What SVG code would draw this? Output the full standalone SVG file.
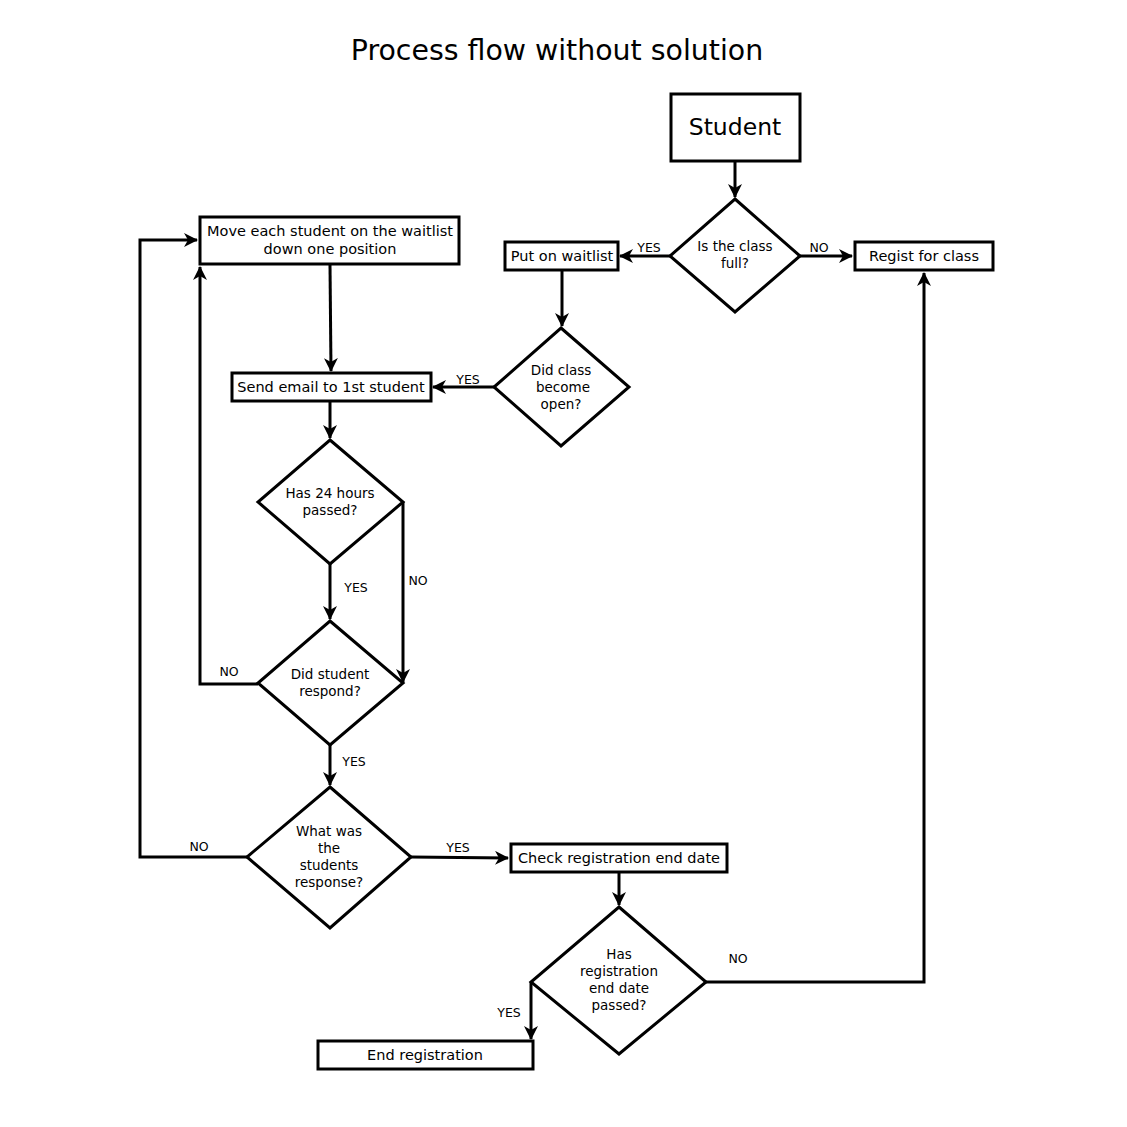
<svg xmlns="http://www.w3.org/2000/svg" width="1127" height="1127" viewBox="0 0 1127 1127">
<defs>
<marker id="ah" viewBox="0 0 14 14" refX="13" refY="7" markerWidth="14" markerHeight="14" markerUnits="userSpaceOnUse" orient="auto">
<path d="M0,0 L14,7 L0,14 L4,7 Z" fill="#000"/>
</marker>
<style>
.box{fill:#fff;stroke:#000;stroke-width:3}
.dia{fill:#fff;stroke:#000;stroke-width:3}
.c{fill:none;stroke:#000;stroke-width:3;marker-end:url(#ah)}
text{font-family:"DejaVu Sans",sans-serif;fill:#000;text-anchor:middle}
.t{font-size:14.5px}
.d{font-size:13.5px}
.l{font-size:12.5px}
</style>
</defs>
<rect width="1127" height="1127" fill="#fff"/>
<text x="557" y="60" style="font-size:28.4px">Process flow without solution</text>

<g id="connectors">
<path class="c" d="M735,162 L735,197"/>
<path class="c" d="M670,256 L620,256"/>
<path class="c" d="M800,256 L852,256"/>
<path class="c" d="M562,271 L562,326"/>
<path class="c" d="M494,387 L433,387"/>
<path class="c" d="M330,265 L331,371"/>
<path class="c" d="M330,402 L330,438"/>
<path class="c" d="M330,564 L330,619"/>
<path class="c" d="M403,502 L403,682"/>
<path class="c" d="M258,684 L200,684 L200,267"/>
<path class="c" d="M330,745 L330,785"/>
<path class="c" d="M247,857 L140,857 L140,240 L197,240"/>
<path class="c" d="M411,857 L508,858"/>
<path class="c" d="M619,873 L619,905"/>
<path class="c" d="M706,982 L924,982 L924,273"/>
<path class="c" d="M531,982 L531,1039"/>
<text class="l" x="649" y="252">YES</text>
<text class="l" x="819" y="252">NO</text>
<text class="l" x="468" y="384">YES</text>
<text class="l" x="356" y="592">YES</text>
<text class="l" x="418" y="585">NO</text>
<text class="l" x="229" y="676">NO</text>
<text class="l" x="354" y="766">YES</text>
<text class="l" x="199" y="851">NO</text>
<text class="l" x="458" y="852">YES</text>
<text class="l" x="738" y="963">NO</text>
<text class="l" x="509" y="1017">YES</text>
</g>

<g id="student">
<rect class="box" x="671" y="94" width="129" height="67"/>
<text x="735" y="135" style="font-size:23.5px">Student</text>
</g>
<g id="is-class-full">
<polygon class="dia" points="735,199 800,256 735,312 670,256"/>
<text class="d" x="735" y="251">Is the class</text>
<text class="d" x="735" y="268">full?</text>
</g>
<g id="put-on-waitlist">
<rect class="box" x="505" y="242" width="113" height="28"/>
<text class="t" x="562" y="261">Put on waitlist</text>
</g>
<g id="regist-for-class">
<rect class="box" x="855" y="242" width="138" height="28"/>
<text class="t" x="924" y="261">Regist for class</text>
</g>
<g id="did-class-open">
<polygon class="dia" points="561,328 629,387 561,446 494,387"/>
<text class="d" x="561" y="375">Did class</text>
<text class="d" x="563" y="392">become</text>
<text class="d" x="561" y="409">open?</text>
</g>
<g id="move-each-student">
<rect class="box" x="200" y="217" width="259" height="47"/>
<text class="t" x="330" y="236">Move each student on the waitlist</text>
<text class="t" x="330" y="254">down one position</text>
</g>
<g id="send-email">
<rect class="box" x="232" y="373" width="199" height="28"/>
<text class="t" x="331" y="392">Send email to 1st student</text>
</g>
<g id="has-24-hours">
<polygon class="dia" points="330,440 403,502 330,564 258,502"/>
<text class="d" x="330" y="498">Has 24 hours</text>
<text class="d" x="330" y="515">passed?</text>
</g>
<g id="did-student-respond">
<polygon class="dia" points="330,621 403,683 330,745 258,683"/>
<text class="d" x="330" y="679">Did student</text>
<text class="d" x="330" y="696">respond?</text>
</g>
<g id="what-was-response">
<polygon class="dia" points="330,787 411,857 330,928 247,857"/>
<text class="d" x="329" y="836">What was</text>
<text class="d" x="329" y="853">the</text>
<text class="d" x="329" y="870">students</text>
<text class="d" x="329" y="887">response?</text>
</g>
<g id="check-registration">
<rect class="box" x="511" y="844" width="216" height="28"/>
<text class="t" x="619" y="863">Check registration end date</text>
</g>
<g id="has-end-date-passed">
<polygon class="dia" points="619,907 706,982 619,1054 531,982"/>
<text class="d" x="619" y="959">Has</text>
<text class="d" x="619" y="976">registration</text>
<text class="d" x="619" y="993">end date</text>
<text class="d" x="619" y="1010">passed?</text>
</g>
<g id="end-registration">
<rect class="box" x="318" y="1041" width="215" height="28"/>
<text class="t" x="425" y="1060">End registration</text>
</g>
</svg>
